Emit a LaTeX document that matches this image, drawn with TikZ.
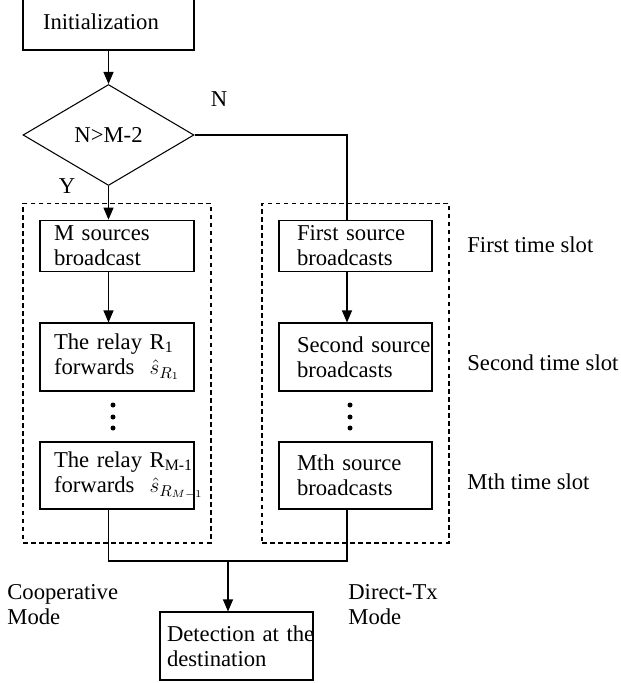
\documentclass[tikz,border=0pt]{standalone}
\usepackage{fontspec}
\setmainfont{Liberation Serif}
\usetikzlibrary{shapes.geometric,arrows.meta}

\tikzset{
  stepbox/.style={draw, rectangle, align=left, line width=0.6pt},
  coopbox/.style={stepbox, text width=2.52cm, inner xsep=0.28cm},
  directbox/.style={stepbox, text width=2.34cm, inner xsep=0.36cm},
  decision/.style={draw, diamond, aspect=1.7, minimum width=3.42cm, minimum height=2.02cm, inner sep=0pt, line width=0.6pt},
  modebox/.style={draw, rectangle, line width=0.6pt, dash pattern=on 0.09cm off 0.07cm},
  note/.style={inner sep=0pt, align=left},
  link/.style={line width=0.6pt},
  flow/.style={link, -{Triangle[length=0.24cm,width=0.2cm]}}
}

\begin{document}
\begin{tikzpicture}
    [x=0.02cm, y=-0.02cm, every node/.style={font=\fontsize{12.9}{14.2}\selectfont}]
    \useasboundingbox (0,0) rectangle (620,683);

    % start and test
    \node[stepbox, text width=2.62cm, inner xsep=0.4cm, minimum height=1.12cm] (init) at (108.5,22) {Initialization};
    \node[decision] (dec) at (108.5,135) {N>M-2};
    \node (no) at (219,99) {N};
    \node (yes) at (67,186) {Y};

    % the two modes
    \node[modebox, minimum width=3.76cm, minimum height=6.8cm] (coop) at (117,373) {};
    \node[modebox, minimum width=3.74cm, minimum height=6.8cm] (direct) at (355.5,373) {};

    \node[coopbox, minimum height=1cm] (mbc) at (117,246) {M sources\\broadcast};
    \node[coopbox, minimum height=1.36cm] (rly1) at (117,357) {The relay R\textsubscript{1}\\forwards~~$\hat{s}_{R_1}$};
    \node[coopbox, minimum height=1.34cm] (rlym) at (117,475.5) {\mbox{The relay R\textsubscript{M-1}}\\forwards~~$\hat{s}_{R_{M-1}}$};

    \node[directbox, minimum height=1cm] (src1) at (355.5,246) {First source\\broadcasts};
    \node[directbox, minimum height=1.36cm] (src2) at (355.5,357) {\mbox{Second source}\\broadcasts};
    \node[directbox, minimum height=1.34cm] (srcm) at (355.5,475.5) {Mth source\\broadcasts};

    \node[note, anchor=west] (slot1) at (467,245) {First time slot};
    \node[note, anchor=west] (slot2) at (467,363) {Second time slot};
    \node[note, anchor=west] (slotm) at (467,482) {Mth time slot};

    \node[note, anchor=west] (coopname) at (7,605) {Cooperative\\Mode};
    \node[note, anchor=west] (directname) at (348,605) {Direct-Tx\\Mode};

    \node[stepbox, text width=2.78cm, inner xsep=0.14cm, minimum height=1.36cm] (det) at (236.5,646) {\mbox{Detection at the}\\destination};

    \foreach \y in {405,417,428} \fill (113,\y) circle (0.05cm) (350,\y) circle (0.05cm);

    % connectors
    \coordinate (turn) at (347,135);
    \coordinate (join) at (228,561);
    \draw[flow] (init) -- (dec);
    \draw[flow] (dec.south) -- (dec.south |- mbc.north);
    \draw[flow] (dec.south |- mbc.south) -- (dec.south |- rly1.north);
    \draw[link] (dec.east) -- (turn) -- (turn |- src1.north);
    \draw[flow] (turn |- src1.south) -- (turn |- src2.north);
    \draw[link] (dec.south |- rlym.south) |- (join) -| (turn |- srcm.south);
    \draw[flow] (join) -- (join |- det.north);
\end{tikzpicture}
\end{document}
